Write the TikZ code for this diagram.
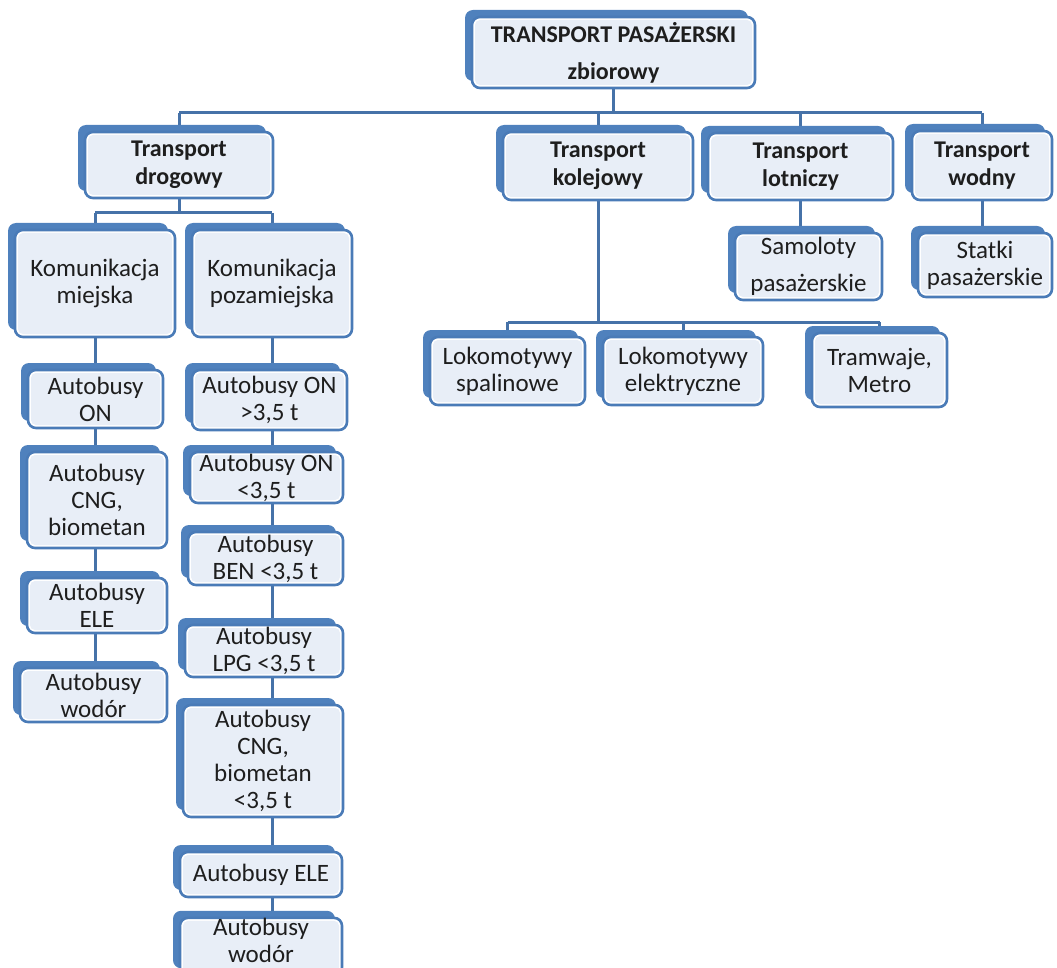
\documentclass[tikz,border=0pt]{standalone}
\usepackage{fontspec}
\setmainfont{Carlito}
\usetikzlibrary{shadows}

\definecolor{backblue}{HTML}{4F81BD}
\definecolor{edgeblue}{HTML}{4A7BB7}
\definecolor{linkblue}{HTML}{4672A8}
\definecolor{paneblue}{HTML}{E8EEF7}
\definecolor{ink}{HTML}{1E1E1E}

\pgfdeclarelayer{background}
\pgfsetlayers{background,main}

\tikzset{
  box/.style={rectangle, rounded corners=8pt, draw=edgeblue, line width=2.6pt,
    fill=white, inner sep=0pt, align=center, text=ink,
    general shadow={fill=backblue, shadow xshift=-7pt, shadow yshift=7pt},
    path picture={\fill[paneblue, rounded corners=5pt]
      ([shift={(3pt,3pt)}]path picture bounding box.south west) rectangle
      ([shift={(-3pt,-3pt)}]path picture bounding box.north east);}},
  rootbox/.style={box, font=\fontsize{24}{37}\selectfont\bfseries},
  head/.style={box, font=\fontsize{24}{28}\selectfont\bfseries},
  leaf/.style={box, font=\fontsize{25}{27}\selectfont},
  wideleaf/.style={box, font=\fontsize{25}{37}\selectfont},
  link/.style={draw=linkblue, line width=3pt}
}

\begin{document}
\begin{tikzpicture}[x=1pt, y=-1pt]
\useasboundingbox (0,0) rectangle (1057,968);

% top level
\node[rootbox, minimum width=283pt, minimum height=71pt] (root) at (613.5,52.5)
  {TRANSPORT PASAŻERSKI\\zbiorowy};

% transport modes
\node[head, minimum width=188pt, minimum height=66pt] (drog) at (179,165) {Transport\\drogowy};
\node[head, minimum width=190pt, minimum height=68pt] (kol) at (598,166) {Transport\\kolejowy};
\node[head, minimum width=185pt, minimum height=67pt] (lot) at (800.5,166.5) {Transport\\lotniczy};
\node[head, minimum width=140pt, minimum height=69pt] (wod) at (982,165.5) {Transport\\wodny};

% road transport
\node[leaf, minimum width=160pt, minimum height=107pt] (miej) at (95,283.5) {Komunikacja\\miejska};
\node[leaf, minimum width=160pt, minimum height=107pt] (pozam) at (272,283.5) {Komunikacja\\pozamiejska};

% city buses
\node[leaf, minimum width=135pt, minimum height=58pt] (m1) at (95.5,399) {Autobusy\\ON};
\node[leaf, minimum width=140pt, minimum height=96pt] (m2) at (97,500) {Autobusy\\CNG,\\biometan};
\node[leaf, minimum width=140pt, minimum height=55pt] (m3) at (97,605.5) {Autobusy\\ELE};
\node[leaf, minimum width=147pt, minimum height=54pt] (m4) at (93.5,695) {Autobusy\\wodór};

% intercity buses
\node[leaf, minimum width=155pt, minimum height=60pt] (p1) at (269.5,400) {Autobusy ON\\>3,5 t};
\node[leaf, minimum width=153pt, minimum height=51pt] (p2) at (266.5,477.5) {Autobusy ON\\<3,5 t};
\node[leaf, minimum width=155pt, minimum height=53pt] (p3) at (265.5,558.5) {Autobusy\\BEN <3,5 t};
\node[leaf, minimum width=158pt, minimum height=52pt] (p4) at (264,651) {Autobusy\\LPG <3,5 t};
\node[leaf, minimum width=160pt, minimum height=112pt] (p5) at (263,761) {Autobusy\\CNG,\\biometan\\<3,5 t};
\node[leaf, minimum width=162pt, minimum height=45pt] (p6) at (261,874.5) {Autobusy ELE};
\node[leaf, minimum width=162pt, minimum height=57pt, text depth=13pt] (p7) at (261,946.5) {Autobusy\\wodór};

% rail
\node[leaf, minimum width=155pt, minimum height=68pt] (k1) at (507.5,371) {Lokomotywy\\spalinowe};
\node[leaf, minimum width=160pt, minimum height=68pt] (k2) at (683,371) {Lokomotywy\\elektryczne};
\node[leaf, minimum width=135pt, minimum height=74pt] (k3) at (879.5,370) {Tramwaje,\\Metro};

% air and water
\node[wideleaf, minimum width=147pt, minimum height=67pt] (sam) at (808.5,266.5) {Samoloty\\pasażerskie};
\node[leaf, minimum width=134pt, minimum height=64pt] (stat) at (985,265) {Statki\\pasażerskie};

% connectors
\begin{pgfonlayer}{background}
  \coordinate (busA) at (0,113);
  \coordinate (busB) at (0,213);
  \coordinate (busC) at (0,322);
  \draw[link] (root.south) -- (root.south |- busA);
  \draw[link] (drog.north |- busA) -- (wod.north |- busA);
  \foreach \n in {drog,kol,lot,wod} \draw[link] (\n.north |- busA) -- (\n.north);

  \draw[link] (drog.south) -- (drog.south |- busB);
  \draw[link] (miej.north |- busB) -- (pozam.north |- busB);
  \foreach \n in {miej,pozam} \draw[link] (\n.north |- busB) -- (\n.north);

  \draw[link] (kol.south) -- (kol.south |- busC);
  \draw[link] (k1.north |- busC) -- (k3.north |- busC);
  \foreach \n in {k1,k2,k3} \draw[link] (\n.north |- busC) -- (\n.north);

  \draw[link] (lot.south) -- (lot.south |- sam.north);
  \draw[link] (wod.south) -- (wod.south |- stat.north);

  \draw[link] (miej.south) -- (miej.south |- m4.north);
  \draw[link] (pozam.south) -- (pozam.south |- p7.north);
\end{pgfonlayer}
\end{tikzpicture}
\end{document}
